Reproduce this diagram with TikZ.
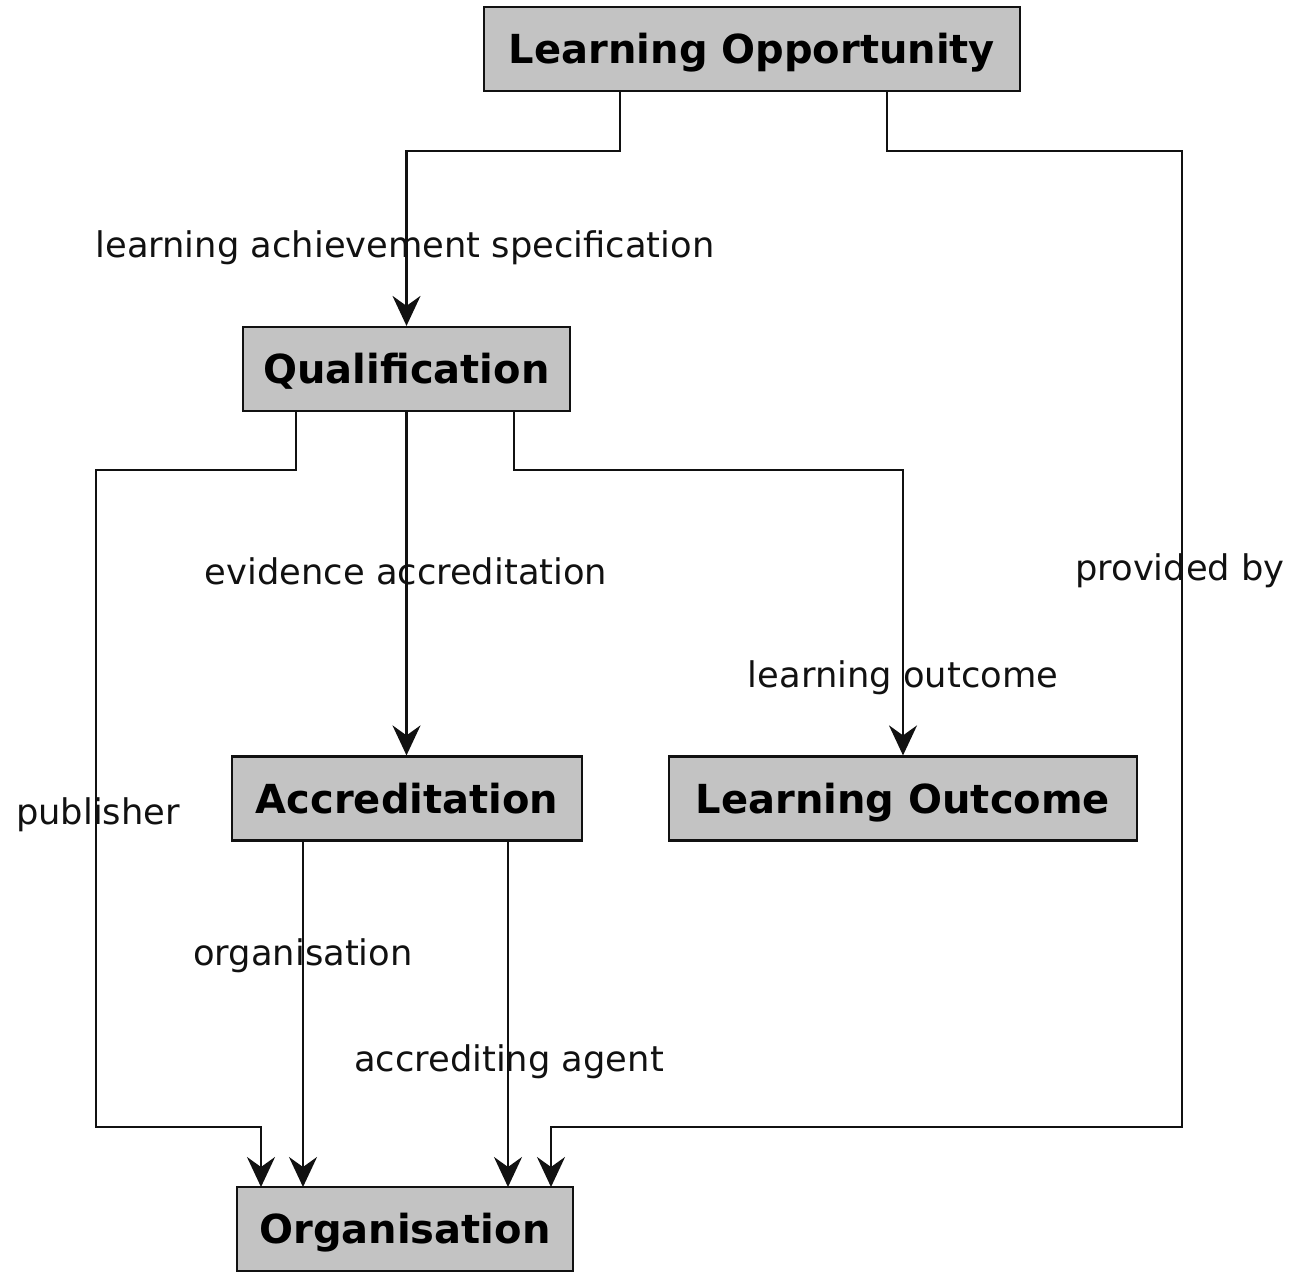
\documentclass[tikz,border=0pt]{standalone}
\usepackage{fontspec}
\setmainfont{DejaVu Sans}
\usetikzlibrary{arrows.meta}
\definecolor{boxgray}{HTML}{C3C3C3}
\definecolor{edge}{HTML}{111111}
\tikzset{
  box/.style={draw=edge, line width=2.2pt, fill=boxgray, minimum height=84pt, inner sep=0pt,
    text height=33pt, text depth=4pt, font=\fontsize{40}{44}\selectfont\bfseries},
  lbl/.style={inner sep=0pt, font=\fontsize{35.3}{40}\selectfont, text=edge},
  arr/.style={draw=edge, line width=2.4pt, -{Stealth[length=30pt,width=28pt,inset=10pt]}}
}
\begin{document}
\begin{tikzpicture}[x=1pt,y=-1pt]
\useasboundingbox (0,0) rectangle (1316,1271);
\node[box, minimum width=536pt] (lo) at (752,49) {Learning Opportunity};
\node[box, minimum width=327pt] (q) at (406.5,369) {Qualification};
\node[box, minimum width=350pt] (acc) at (407,798.5) {Accreditation};
\node[box, minimum width=468pt] (lout) at (903,798.5) {Learning Outcome};
\node[box, minimum width=336pt] (org) at (405,1229) {Organisation};

\coordinate (c1) at (620,151);
\coordinate (c2) at (887,151);
\coordinate (c3) at (296,470);
\coordinate (c4) at (514,470);

\draw[arr] (lo.south -| c1) -- (c1) -| (q.north);
\draw[arr] (lo.south -| c2) -- (c2) -- (1182,151) -- (1182,1127) -- (551,1127) -- (551,1187);
\draw[arr] (q.south -| c3) -- (c3) -- (96,470) -- (96,1127) -- (261,1127) -- (261,1187);
\draw[arr] (q.south) -- (acc.north -| q.south);
\draw[arr] (q.south -| c4) -- (c4) -| (lout.north);
\draw[arr] (303,840) -- (303,1187);
\draw[arr] (508,840) -- (508,1187);

\node[lbl] (l1) at (405,248) {learning achievement specification};
\node[lbl] (l2) at (1180,571) {provided by};
\node[lbl] (l3) at (98,815) {publisher};
\node[lbl] (l4) at (406,571) {evidence accreditation};
\node[lbl] (l5) at (903,678) {learning outcome};
\node[lbl] (l6) at (303,956) {organisation};
\node[lbl] (l7) at (509,1062) {accrediting agent};
\end{tikzpicture}
\end{document}
